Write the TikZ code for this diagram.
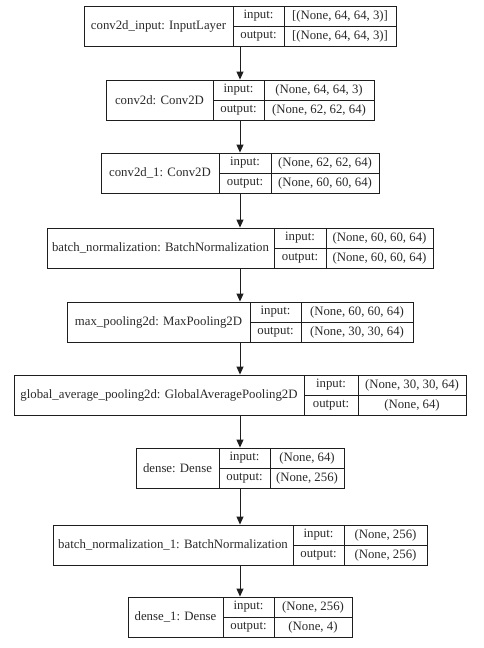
\documentclass[tikz,border=0pt]{standalone}
\usepackage{fontspec}
\setmainfont{Liberation Serif}
\usetikzlibrary{arrows.meta,fit}
\definecolor{txt}{HTML}{2A2A2A}
\definecolor{ln}{HTML}{1E1E1E}
\tikzset{
  cellline/.style={draw=ln, line width=0.9pt},
  outerbox/.style={draw=ln, line width=0.9pt, inner sep=0pt},
  lbl/.style={text=txt, inner sep=0pt, font=\fontsize{12.8}{15}\selectfont},
  arr/.style={draw=ln, line width=0.9pt, -{Triangle[length=8pt,width=7pt]}}
}
% id, top, bottom, left, d1, d2, name, input, output
\newcommand\nnlayer[9]{%
  \coordinate (#1nw) at (#4,#2);
  \coordinate (#1se) at ({480-#4},#3);
  \node[outerbox, fit=(#1nw)(#1se)] (#1) {};
  \draw[cellline] (#5,#2) -- (#5,#3);
  \draw[cellline] (#6,#2) -- (#6,#3);
  \draw[cellline] (#5,{(#2+#3)/2}) -- ({480-#4},{(#2+#3)/2});
  \node[lbl] (#1name) at ({(#4+#5)/2},{(#2+#3)/2}) {#7};
  \node[lbl] (#1inl) at ({(#5+#6)/2},{(3*#2+#3)/4}) {input:};
  \node[lbl] (#1outl) at ({(#5+#6)/2},{(#2+3*#3)/4}) {output:};
  \node[lbl] (#1inv) at ({(#6+480-#4)/2},{(3*#2+#3)/4}) {#8};
  \node[lbl] (#1outv) at ({(#6+480-#4)/2},{(#2+3*#3)/4}) {#9};
}
\begin{document}
\begin{tikzpicture}[x=1pt,y=-1pt]
\useasboundingbox[fill=white] (0,0) rectangle (483,648);
\nnlayer{L1}{6}{46}{84}{233}{284}{conv2d\_input: InputLayer}{[(None, 64, 64, 3)]}{[(None, 64, 64, 3)]}
\nnlayer{L2}{80}{120}{106}{213}{264}{conv2d: Conv2D}{(None, 64, 64, 3)}{(None, 62, 62, 64)}
\nnlayer{L3}{153}{193}{101}{219}{271}{conv2d\_1: Conv2D}{(None, 62, 62, 64)}{(None, 60, 60, 64)}
\nnlayer{L4}{228}{268}{47}{274}{326}{batch\_normalization: BatchNormalization}{(None, 60, 60, 64)}{(None, 60, 60, 64)}
\nnlayer{L5}{302}{342}{67}{250}{301}{max\_pooling2d: MaxPooling2D}{(None, 60, 60, 64)}{(None, 30, 30, 64)}
\nnlayer{L6}{375}{415}{14}{304}{358}{global\_average\_pooling2d: GlobalAveragePooling2D}{(None, 30, 30, 64)}{(None, 64)}
\nnlayer{L7}{448}{488}{136}{219}{270}{dense: Dense}{(None, 64)}{(None, 256)}
\nnlayer{L8}{525}{565}{53}{293}{344}{batch\_normalization\_1: BatchNormalization}{(None, 256)}{(None, 256)}
\nnlayer{L9}{597}{637}{128}{223}{274}{dense\_1: Dense}{(None, 256)}{(None, 4)}
\draw[arr] (L1.south) -- (L2.north);
\draw[arr] (L2.south) -- (L3.north);
\draw[arr] (L3.south) -- (L4.north);
\draw[arr] (L4.south) -- (L5.north);
\draw[arr] (L5.south) -- (L6.north);
\draw[arr] (L6.south) -- (L7.north);
\draw[arr] (L7.south) -- (L8.north);
\draw[arr] (L8.south) -- (L9.north);
\end{tikzpicture}
\end{document}
